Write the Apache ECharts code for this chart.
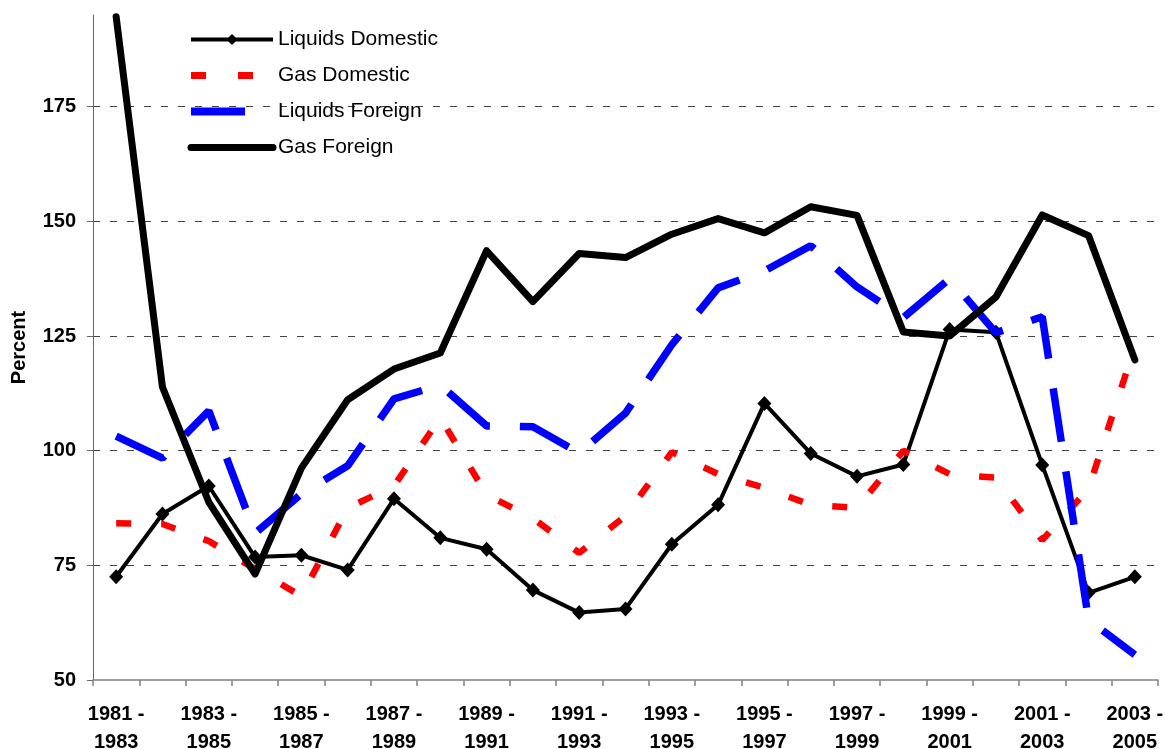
<!DOCTYPE html>
<html>
<head>
<meta charset="utf-8">
<script src="https://cdn.jsdelivr.net/npm/echarts@6/dist/echarts.min.js"></script>
<style>
html,body{margin:0;padding:0;background:#fff;}
#chart{width:1165px;height:749px;}
</style>
</head>
<body>
<div id="chart"></div>
<script>
const categories = [
  '1981 -\n1983','1982 -\n1984','1983 -\n1985','1984 -\n1986','1985 -\n1987','1986 -\n1988',
  '1987 -\n1989','1988 -\n1990','1989 -\n1991','1990 -\n1992','1991 -\n1993','1992 -\n1994',
  '1993 -\n1995','1994 -\n1996','1995 -\n1997','1996 -\n1998','1997 -\n1999','1998 -\n2000',
  '1999 -\n2001','2000 -\n2002','2001 -\n2003','2002 -\n2004','2003 -\n2005'
];
const liquidsDomestic = [72.5, 86.2, 92.3, 76.8, 77.2, 74.0, 89.5, 81.0, 78.5, 69.6, 64.7, 65.5, 79.6, 88.2, 110.3, 99.4, 94.4, 97.0, 126.4, 125.8, 96.9, 69.0, 72.5];
const gasDomestic = [84.2, 84.0, 80.3, 74.2, 68.3, 87.5, 92.3, 107.2, 90.4, 85.3, 77.7, 85.8, 99.7, 94.9, 91.9, 88.2, 87.5, 100.0, 94.9, 94.1, 80.5, 91.7, 122.8];
const liquidsForeign = [103.2, 98.4, 108.7, 82.0, 90.6, 96.7, 111.3, 114.3, 105.4, 105.2, 99.5, 108.2, 123.1, 135.5, 139.2, 144.7, 135.7, 129.0, 137.5, 125.7, 129.2, 63.1, 55.5];
const gasForeign = [194.6, 113.9, 88.8, 73.1, 96.2, 111.1, 117.8, 121.3, 143.6, 132.5, 143.0, 142.1, 147.2, 150.6, 147.5, 153.2, 151.3, 125.9, 125.0, 133.5, 151.4, 146.9, 119.8];
const yTicks = [50, 75, 100, 125, 150, 175];

const FONT = 'Liberation Sans, Arial, Helvetica, sans-serif';
const chart = echarts.init(document.getElementById('chart'), null, {renderer: 'canvas'});
chart.setOption({
  animation: false,
  backgroundColor: '#ffffff',
  grid: {left: 93, right: 7, top: 15, bottom: 69, containLabel: false, outerBoundsMode: 'none'},
  legend: {
    orient: 'vertical',
    left: 187,
    top: 29,
    padding: 0,
    itemWidth: 82,
    itemHeight: 14,
    itemGap: 15,
    textStyle: {fontFamily: FONT, fontSize: 21, color: '#000'},
    data: [
      {name: 'Liquids Domestic', lineStyle: {width: 4}},
      {name: 'Gas Domestic', lineStyle: {width: 7, type: [15, 32], cap: 'butt'}, itemStyle: {opacity: 0}},
      {name: 'Liquids Foreign', lineStyle: {width: 8, type: [54, 30], cap: 'butt'}, itemStyle: {opacity: 0}},
      {name: 'Gas Foreign', lineStyle: {width: 7, cap: 'round'}, itemStyle: {opacity: 0}}
    ]
  },
  xAxis: {
    type: 'category',
    data: categories,
    boundaryGap: true,
    axisLine: {show: true, lineStyle: {color: '#808080', width: 1.5}},
    axisTick: {show: true, interval: 0, length: 6, lineStyle: {color: '#808080', width: 1.5}},
    axisLabel: {
      interval: 1,
      fontFamily: FONT,
      fontSize: 20,
      fontWeight: 'bold',
      color: '#000',
      lineHeight: 28,
      margin: 20
    },
    splitLine: {show: false}
  },
  yAxis: {
    type: 'value',
    min: 50,
    max: 195,
    interval: 25,
    name: 'Percent',
    nameLocation: 'middle',
    nameRotate: 90,
    nameGap: 64,
    nameTextStyle: {fontFamily: FONT, fontSize: 20, fontWeight: 'bold', color: '#000'},
    axisLine: {show: true, lineStyle: {color: '#666', width: 1}},
    axisTick: {show: true, length: 6, lineStyle: {color: '#666'}, customValues: yTicks},
    axisLabel: {
      fontFamily: FONT,
      fontSize: 20,
      fontWeight: 'bold',
      color: '#000',
      margin: 17,
      customValues: yTicks
    },
    splitLine: {show: true, showMinLine: false, lineStyle: {color: '#444', width: 1, type: [7, 10]}}
  },
  series: [
    {
      name: 'Liquids Domestic',
      type: 'line',
      data: liquidsDomestic,
      symbol: 'diamond',
      symbolSize: [14, 15],
      showSymbol: true,
      itemStyle: {color: '#000'},
      lineStyle: {color: '#000', width: 4},
      z: 2
    },
    {
      name: 'Gas Domestic',
      type: 'line',
      data: gasDomestic,
      symbol: 'none',
      itemStyle: {color: '#ff0000'},
      lineStyle: {color: '#ff0000', width: 6.5, type: [15, 30], cap: 'butt'},
      z: 3
    },
    {
      name: 'Liquids Foreign',
      type: 'line',
      data: liquidsForeign,
      symbol: 'none',
      itemStyle: {color: '#0000ff'},
      lineStyle: {color: '#0000ff', width: 7.5, type: [54, 30], cap: 'butt'},
      z: 4
    },
    {
      name: 'Gas Foreign',
      type: 'line',
      data: gasForeign,
      symbol: 'none',
      itemStyle: {color: '#000'},
      lineStyle: {color: '#000', width: 7, cap: 'round', join: 'round'},
      z: 5
    }
  ]
});
</script>
</body>
</html>
